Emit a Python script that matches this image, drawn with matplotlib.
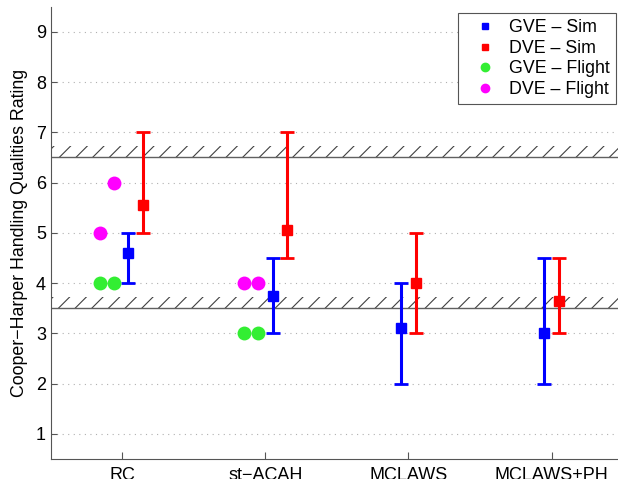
import matplotlib
matplotlib.use('Agg')
import matplotlib.pyplot as plt
import numpy as np

plt.rcParams['font.family'] = ['Liberation Sans', 'DejaVu Sans']
plt.rcParams['hatch.linewidth'] = 0.8

categories = ['RC', 'st\u2212ACAH', 'MCLAWS', 'MCLAWS+PH']

# simulator results: mean with min/max
gve_sim_x = [1.04, 2.055, 2.95, 3.95]
gve_sim_mean = [4.6, 3.75, 3.1, 3.0]
gve_sim_lo = [4.0, 3.0, 2.0, 2.0]
gve_sim_hi = [5.0, 4.5, 4.0, 4.5]

dve_sim_x = [1.14, 2.15, 3.05, 4.055]
dve_sim_mean = [5.55, 5.05, 4.0, 3.65]
dve_sim_lo = [5.0, 4.5, 3.0, 3.0]
dve_sim_hi = [7.0, 7.0, 5.0, 4.5]

# flight test ratings (two pilots)
gve_flt_x = [0.84, 0.94, 1.85, 1.95]
gve_flt_y = [4, 4, 3, 3]
dve_flt_x = [0.84, 0.94, 1.85, 1.95]
dve_flt_y = [5, 6, 4, 4]

hq_levels = [3.5, 6.5]

fig = plt.figure(figsize=(6.18, 4.79), dpi=100)
ax = fig.add_axes([0.0825, 0.042, 0.9256, 0.944])

for y in range(1, 10):
    ax.axhline(y, color='#b0b0b0', linestyle=(0, (1, 4)), linewidth=0.8, zorder=0)

for lev in hq_levels:
    ax.axhspan(lev, lev + 0.22, facecolor='none', edgecolor='#404040', hatch='//',
               linewidth=0, zorder=1)
    ax.axhline(lev, color='#606060', linewidth=1.0, zorder=1)

def yerr(mean, lo, hi):
    m = np.array(mean)
    return [m - np.array(lo), np.array(hi) - m]

ax.errorbar(gve_sim_x, gve_sim_mean, yerr=yerr(gve_sim_mean, gve_sim_lo, gve_sim_hi),
            fmt='s', color='blue', markersize=7, elinewidth=2.2, capsize=5, capthick=2,
            linestyle='none', zorder=3)
ax.errorbar(dve_sim_x, dve_sim_mean, yerr=yerr(dve_sim_mean, dve_sim_lo, dve_sim_hi),
            fmt='s', color='red', markersize=7, elinewidth=2.2, capsize=5, capthick=2,
            linestyle='none', zorder=3)
ax.plot(gve_flt_x, gve_flt_y, 'o', color='#33ee33', markersize=10, markeredgewidth=0, zorder=3)
ax.plot(dve_flt_x, dve_flt_y, 'o', color='magenta', markersize=10, markeredgewidth=0, zorder=3)

ax.set_xlim(0.5, 4.5)
ax.set_ylim(0.5, 9.5)
ax.set_xticks([1, 2, 3, 4])
ax.set_xticklabels(categories, fontsize=13)
ax.set_yticks(range(1, 10))
ax.tick_params(axis='y', labelsize=13, direction='in', length=4, color='#555555')
ax.tick_params(axis='x', direction='in', length=5, pad=6, color='#555555')
ax.set_ylabel('Cooper\u2212Harper Handling Qualities Rating', fontsize=12.8, labelpad=6)
ax.spines['top'].set_visible(False)
ax.spines['right'].set_visible(False)
ax.spines['left'].set_color('#555555')
ax.spines['bottom'].set_color('#555555')

handles = [
    plt.Line2D([], [], marker='s', color='blue', linestyle='none', markersize=5),
    plt.Line2D([], [], marker='s', color='red', linestyle='none', markersize=5),
    plt.Line2D([], [], marker='o', color='#33ee33', linestyle='none', markersize=6),
    plt.Line2D([], [], marker='o', color='magenta', linestyle='none', markersize=6),
]
labels = ['GVE \u2013 Sim', 'DVE \u2013 Sim', 'GVE \u2013 Flight', 'DVE \u2013 Flight']
leg = ax.legend(handles, labels, loc='upper right', bbox_to_anchor=(0.99, 0.99),
                fontsize=12.8, fancybox=False, framealpha=1, edgecolor='#555555',
                handletextpad=0.1, borderpad=0.35, labelspacing=0.2, handlelength=2.4,
                borderaxespad=0.1)
leg.get_frame().set_linewidth(0.8)

fig.savefig('out.png', dpi=100)
